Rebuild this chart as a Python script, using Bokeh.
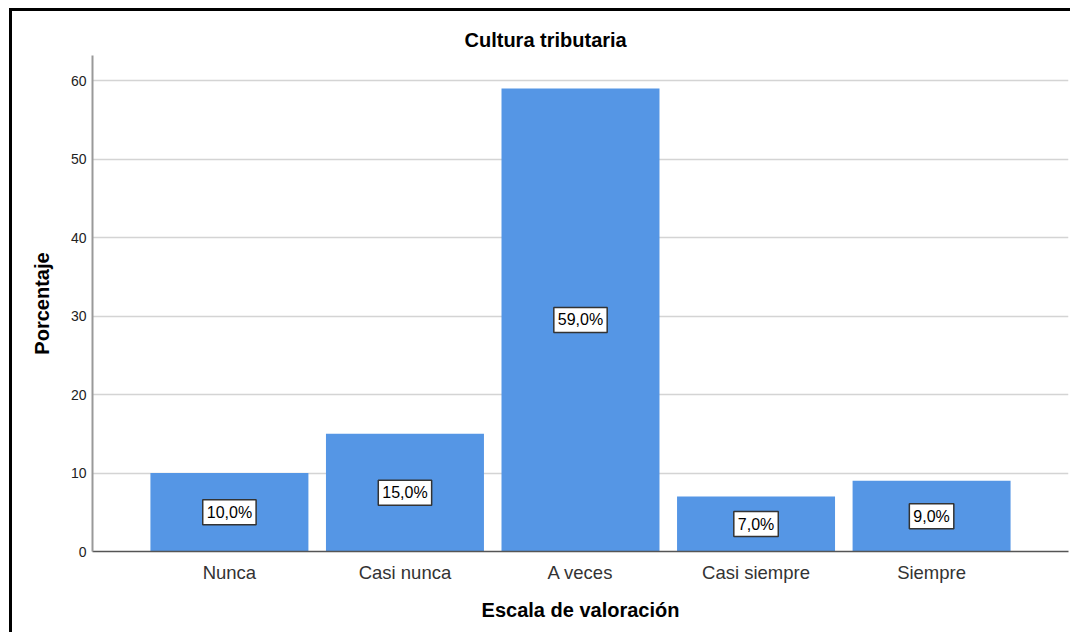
from bokeh.plotting import figure
from bokeh.models import ColumnDataSource, Title
from bokeh.embed import file_html
from bokeh.resources import INLINE
from bokeh.core.properties import value

# ---- data ----
categories = ["Nunca", "Casi nunca", "A veces", "Casi siempre", "Siempre"]
percentages = [10.0, 15.0, 59.0, 7.0, 9.0]
y_ticks = [0, 10, 20, 30, 40, 50, 60]
chart_title = "Cultura tributaria"
x_title = "Escala de valoración"
y_title = "Porcentaje"

xs = list(range(len(categories)))
labels = [f"{v:.1f}".replace(".", ",") + "%" for v in percentages]
src = ColumnDataSource(dict(x=xs, top=percentages,
                            mid=[v / 2 for v in percentages], label=labels))

FONT = "Liberation Sans"

p = figure(width=1061, height=624, output_backend="svg", toolbar_location=None,
           x_range=(-0.78, 4.78), y_range=(0, 63.2),
           min_border_left=80, min_border_right=5,
           min_border_top=44, min_border_bottom=84)
p.styles = {"border-left": "3px solid black", "border-top": "3px solid black",
            "margin-left": "9px", "margin-top": "8px"}
p.outline_line_color = None
p.background_fill_color = "white"
p.border_fill_color = "white"

t = Title(text=chart_title, align="left", offset=372, standoff=9,
          text_font=FONT, text_font_size="20px", text_font_style="bold",
          text_color="black")
p.add_layout(t, "above")

p.vbar(x="x", top="top", width=0.9, source=src,
       fill_color="#5596e5", line_color=None)

p.text(x="x", y="mid", text="label", source=src,
       text_align="center", text_baseline="middle",
       text_font=value(FONT), text_font_size="16px", text_color="black",
       background_fill_color="white", border_line_color="#333333",
       border_line_width=1.5, padding=4)

# axes
p.xaxis.ticker = xs
p.xaxis.major_label_overrides = {i: c for i, c in enumerate(categories)}
p.xaxis.major_tick_line_color = None
p.xaxis.major_tick_out = 0
p.xaxis.major_tick_in = 0
p.xaxis.minor_tick_line_color = None
p.xaxis.major_label_text_font = FONT
p.xaxis.major_label_text_font_size = "18.5px"
p.xaxis.major_label_text_color = "#333333"
p.xaxis.major_label_standoff = 10
p.xaxis.axis_line_color = "#555555"
p.xaxis.axis_line_width = 1.5
p.xaxis.axis_label = x_title
p.xaxis.axis_label_text_font = FONT
p.xaxis.axis_label_text_font_size = "20px"
p.xaxis.axis_label_text_font_style = "bold"
p.xaxis.axis_label_text_color = "black"
p.xaxis.axis_label_standoff = 13

p.yaxis.ticker = y_ticks
p.yaxis.major_tick_line_color = None
p.yaxis.major_tick_out = 0
p.yaxis.major_tick_in = 0
p.yaxis.minor_tick_line_color = None
p.yaxis.major_label_text_font = FONT
p.yaxis.major_label_text_font_size = "14px"
p.yaxis.major_label_text_color = "#222222"
p.yaxis.major_label_standoff = 6
p.yaxis.axis_line_color = "#999999"
p.yaxis.axis_line_width = 2
p.yaxis.axis_label = y_title
p.yaxis.axis_label_text_font = FONT
p.yaxis.axis_label_text_font_size = "20px"
p.yaxis.axis_label_text_font_style = "bold"
p.yaxis.axis_label_text_color = "black"
p.yaxis.axis_label_standoff = 15

p.xgrid.grid_line_color = None
p.ygrid.ticker = y_ticks
p.ygrid.grid_line_color = "#d4d4d4"
p.ygrid.grid_line_width = 1.5

open("out.html", "w").write(file_html(p, INLINE))
